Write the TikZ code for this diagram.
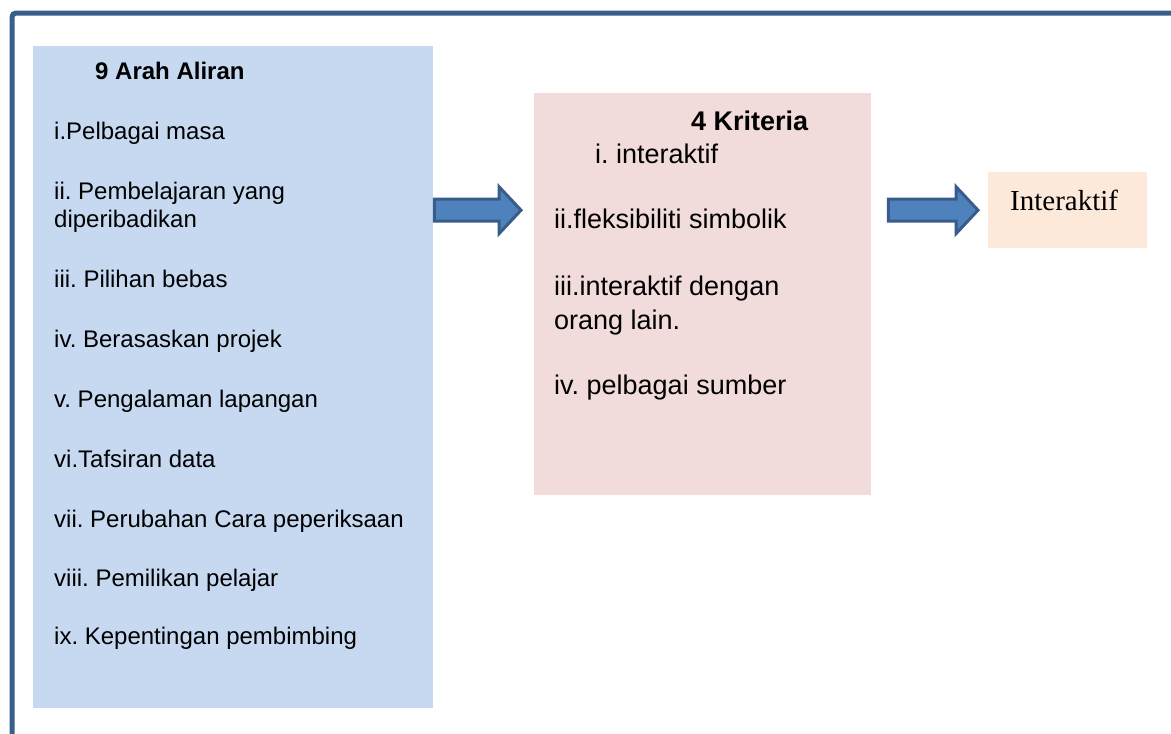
\documentclass[tikz,border=0pt]{standalone}
\usepackage{fontspec}
\setmainfont{Liberation Sans}
\newfontfamily\serifteks{Liberation Serif}
\frenchspacing
\usetikzlibrary{calc}
\definecolor{bingkaibiru}{HTML}{3A5E8C}
\definecolor{kotakbiru}{HTML}{C6D9F1}
\definecolor{kotakmerah}{HTML}{F2DCDB}
\definecolor{kotakjingga}{HTML}{FDE9D9}
\definecolor{panahisi}{HTML}{4F81BD}
\definecolor{panahtepi}{HTML}{385D8A}
\tikzstyle{aliranbox}=[rectangle,fill=kotakbiru,minimum width=400pt,minimum height=662pt,inner sep=0pt,anchor=north west]
\tikzstyle{kriteriabox}=[rectangle,fill=kotakmerah,minimum width=337pt,minimum height=402pt,inner sep=0pt,anchor=north west]
\tikzstyle{hasilbox}=[rectangle,fill=kotakjingga,minimum width=159pt,minimum height=76pt,inner sep=0pt,anchor=north west]
\tikzstyle{teks}=[inner sep=0pt,anchor=base west,font=\fontsize{24}{28}\selectfont]
\tikzstyle{panah}=[draw=panahtepi,fill=panahisi,line width=3pt]
\tikzstyle{bingkai}=[draw=bingkaibiru,line width=5pt,rounded corners=4pt]
\newcommand{\blokpanah}[2]{%
  \path[panah] let \p1=(#1), \p2=(#2) in
    (\x1,\y1+11pt) -- (\x2-22pt,\y1+11pt) -- (\x2-22pt,\y1+23.5pt) -- (\x2,\y1)
    -- (\x2-22pt,\y1-23.5pt) -- (\x2-22pt,\y1-11pt) -- (\x1,\y1-11pt) -- cycle;}
\begin{document}
\begin{tikzpicture}[x=1pt,y=-1pt]
		\useasboundingbox (0,0) rectangle (1171,734);
		\path[fill=white] (0,0) rectangle (1171,734);
		
		\draw[bingkai] (12,734) -- (12,13) -- (1171,13);
		
		\node (aliran) [aliranbox] at (33,46) {};
		\node (kriteria) [kriteriabox] at (534,93) {};
		\node (hasil) [hasilbox] at (988,172) {};
		
		\node (aliranteks) [teks] at (54,79) {\parbox[t]{375pt}{\raggedright
			\hspace*{41pt}\textbf{9 Arah Aliran}\\[32pt]
			i.Pelbagai masa\\[32pt]
			ii. Pembelajaran yang\\ diperibadikan\\[32pt]
			iii. Pilihan bebas\\[32pt]
			iv. Berasaskan projek\\[32pt]
			v. Pengalaman lapangan\\[32pt]
			vi.Tafsiran data\\[32pt]
			vii. Perubahan Cara peperiksaan\\[31pt]
			viii. Pemilikan pelajar\\[30pt]
			ix. Kepentingan pembimbing}};
		\node (kriteriateks) [teks, font=\fontsize{27}{32}\selectfont] at (554,130) {\parbox[t]{310pt}{\raggedright
			\hspace*{137pt}\textbf{4 Kriteria}\\[1pt]
			\hspace*{41pt}i. interaktif\\[33pt]
			ii.fleksibiliti simbolik\\[35pt]
			iii.interaktif dengan\\[2pt] orang lain.\\[33pt]
			iv. pelbagai sumber}};
		\node (hasilteks) [teks, font=\serifteks\fontsize{29}{34}\selectfont] at (1010,210) {Interaktif};
		
		\coordinate (p1a) at ($(aliran.east |- hasil.west)+(1,0)$);
		\coordinate (p1b) at ($(kriteria.west |- hasil.west)+(-13,0)$);
		\coordinate (p2a) at ($(kriteria.east |- hasil.west)+(17,0)$);
		\coordinate (p2b) at ($(hasil.west)+(-10,0)$);
		\blokpanah{p1a}{p1b}
		\blokpanah{p2a}{p2b}
		
\end{tikzpicture}
\end{document}
